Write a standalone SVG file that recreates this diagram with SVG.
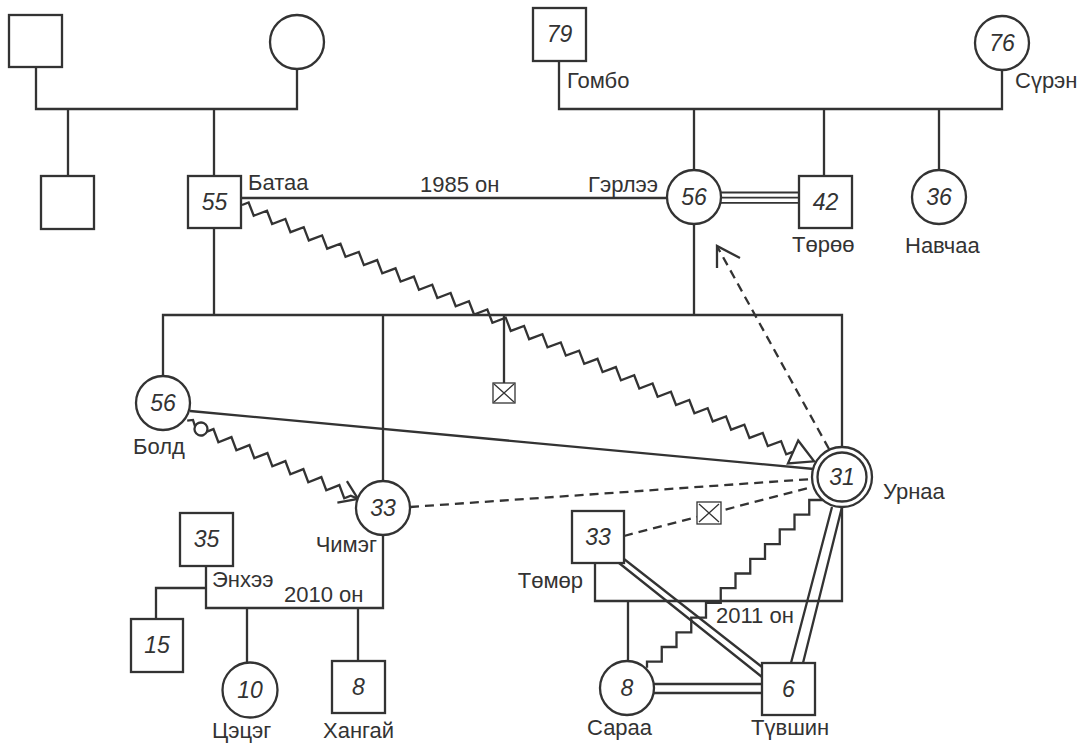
<svg xmlns="http://www.w3.org/2000/svg" width="1091" height="744" viewBox="0 0 1091 744">
<style>
.s{fill:none;stroke:#333;stroke-width:2.3}
.t{fill:none;stroke:#333;stroke-width:1.8}
.d{fill:none;stroke:#333;stroke-width:2.3;stroke-dasharray:9 6}
.n{fill:#fff;stroke:#333;stroke-width:2.3}
.x{fill:#fff;stroke:#333;stroke-width:1.3}
.num{font-family:"Liberation Sans",Arial,sans-serif;font-size:23px;font-style:italic;fill:#333;text-anchor:middle}
.lb{font-family:"Liberation Sans",Arial,sans-serif;font-size:22px;fill:#333}
.e{text-anchor:end}
</style>
<rect width="1091" height="744" fill="#fff"/>
<g id="connectors">
<path class="s" d="M36,67 V109 H297 V69 M68,109 V176 M214,109 V176"/>
<path class="s" d="M559,61 V109 H1002 V70 M694,109 V170 M824,109 V176 M939,109 V170"/>
<path class="s" d="M241,198 H667"/>
<path class="t" d="M721,192.5 H799 M722,197.7 H799 M721,202.8 H799"/>
<path class="s" d="M214,228 V315 M694,224 V315 M163,376 V315 H842 V447 M383,315 V481 M504,315 V383"/>
<path class="s" d="M190,411 L814,469"/>
<path class="s" d="M206,566 V608 H383 V535 M206,588 H156 V619 M247,608 V662 M358,608 V661"/>
<path class="s" d="M595,563 V601 H842 V507 M628,601 V661"/>
<path class="s" d="M654,684 H762 M653,693 H762"/>
<path class="s" d="M624,559 L762,667 M619,563 L762,677"/>
<path class="s" d="M832,507 L791,663 M842,507 L803,663"/>
<path class="s" d="M824,500 h-14.75 v14.7 h-14.75 v14.7 h-14.75 v14.7 h-14.75 v14.7 h-14.75 v14.7 h-14.75 v14.7 h-14.75 v14.7 h-14.75 v14.7 h-14.75 v14.7 h-14.75 v14.7 h-14.75 v14.7 h-14.75 v6"/>
<g transform="translate(242,205) rotate(24.14)">
<path class="s" d="M0,0 l5.03,-5 10.06,10 10.06,-10 10.06,10 10.06,-10 10.06,10 10.06,-10 10.06,10 10.06,-10 10.06,10 10.06,-10 10.06,10 10.06,-10 10.06,10 10.06,-10 10.06,10 10.06,-10 10.06,10 10.06,-10 10.06,10 10.06,-10 10.06,10 10.06,-10 10.06,10 10.06,-10 10.06,10 10.06,-10 10.06,10 10.06,-10 10.06,10 10.06,-10 10.06,10 10.06,-10 10.06,10 10.06,-10 10.06,10 10.06,-10 10.06,10 10.06,-10 10.06,10 10.06,-10 10.06,10 10.06,-10 10.06,10 10.06,-10 10.06,10 10.06,-10 10.06,10 10.06,-10 10.06,10 10.06,-10 10.06,10 10.06,-10 10.06,10 10.06,-10 10.06,10 10.06,-10 10.06,10 10.06,-10 10.06,10 5.03,-5"/>
<polygon class="n" points="603.9,-12.5 626.9,0 603.9,12.5"/>
</g>
<g transform="translate(201,429) rotate(24)">
<path class="s" d="M-16,-2 l5,-3 l4.5,5"/>
<circle class="s" cx="0" cy="0" r="6.5"/>
<path class="s" d="M6.5,0 l4.92,-5 9.84,10 9.84,-10 9.84,10 9.84,-10 9.84,10 9.84,-10 9.84,10 9.84,-10 9.84,10 9.84,-10 9.84,10 9.84,-10 9.84,10 9.84,-10 9.84,10 4.92,-5 L171.9,0"/>
<path class="s" d="M154.5,-11.7 L171.9,0 L154.5,11.7"/>
</g>
<path class="d" d="M410,507 L812,479"/>
<path class="d" d="M624,536 L812,487"/>
<path class="d" d="M829,449 L718,248"/>
<path class="s" d="M717,268 L717,246 L740,258"/>
<g id="x-box-1"><rect class="x" x="493" y="383" width="22" height="20"/><path class="x" d="M494,384 L514,402 M514,384 L494,402"/></g>
<g id="x-box-2"><rect class="x" x="697" y="502" width="24" height="22"/><path class="x" d="M699,504 L719,522 M719,504 L699,522"/></g>
</g>
<g id="n-gf1"><rect class="n" x="9" y="15" width="53" height="52"/></g>
<g id="n-gm1"><circle class="n" cx="297" cy="42" r="27"/></g>
<g id="n-sib1"><rect class="n" x="41" y="176" width="53" height="53"/></g>
<g id="n-bataa"><rect class="n" x="188" y="176" width="53" height="52"/><text class="num" x="214.5" y="210">55</text><text class="lb" x="248" y="190">Батаа</text></g>
<g id="n-gombo"><rect class="n" x="533" y="8" width="53" height="53"/><text class="num" x="559.5" y="42">79</text><text class="lb" x="567" y="88">Гомбо</text></g>
<g id="n-suren"><circle class="n" cx="1002" cy="43" r="27"/><text class="num" x="1002" y="51">76</text><text class="lb" x="1015" y="88">Сүрэн</text></g>
<g id="n-gerlee"><circle class="n" cx="694" cy="197" r="27"/><text class="num" x="694" y="205">56</text><text class="lb e" x="658" y="192">Гэрлээ</text></g>
<g id="n-toroo"><rect class="n" x="799" y="176" width="53" height="52"/><text class="num" x="825.5" y="210">42</text><text class="lb" x="792" y="252">Төрөө</text></g>
<g id="n-navchaa"><circle class="n" cx="939" cy="197" r="27"/><text class="num" x="939" y="205">36</text><text class="lb" x="905" y="253">Навчаа</text></g>
<g id="n-bold"><circle class="n" cx="163" cy="403" r="27"/><text class="num" x="163" y="411">56</text><text class="lb" x="133" y="454">Болд</text></g>
<g id="n-chimeg"><circle class="n" cx="383" cy="508" r="27"/><text class="num" x="383" y="516">33</text><text class="lb e" x="377" y="552">Чимэг</text></g>
<g id="n-urnaa"><circle class="n" cx="842" cy="477" r="30"/><circle class="n" cx="842" cy="477" r="24.5"/><text class="num" x="842" y="485">31</text><text class="lb" x="883" y="499">Урнаа</text></g>
<g id="n-temur"><rect class="n" x="572" y="511" width="52" height="52"/><text class="num" x="598" y="545">33</text><text class="lb e" x="583" y="588">Төмөр</text></g>
<g id="n-enkhee"><rect class="n" x="180" y="513" width="53" height="53"/><text class="num" x="206.5" y="547">35</text><text class="lb" x="212" y="587">Энхээ</text></g>
<g id="n-c15"><rect class="n" x="131" y="619" width="52" height="53"/><text class="num" x="157" y="653">15</text></g>
<g id="n-tsetseg"><circle class="n" cx="250" cy="690" r="27.5"/><text class="num" x="250" y="698">10</text><text class="lb" x="212" y="738">Цэцэг</text></g>
<g id="n-khangai"><rect class="n" x="332" y="661" width="53" height="52"/><text class="num" x="358.5" y="695">8</text><text class="lb" x="323" y="738">Хангай</text></g>
<g id="n-saraa"><circle class="n" cx="627" cy="688" r="27"/><text class="num" x="627" y="696">8</text><text class="lb" x="587" y="735">Сараа</text></g>
<g id="n-tuvshin"><rect class="n" x="762" y="663" width="53" height="52"/><text class="num" x="788.5" y="697">6</text><text class="lb" x="751" y="735">Түвшин</text></g>
<g id="labels">
<text class="lb" x="420" y="192">1985 он</text>
<text class="lb" x="284" y="602">2010 он</text>
<text class="lb" x="716" y="623">2011 он</text>
</g>
</svg>
